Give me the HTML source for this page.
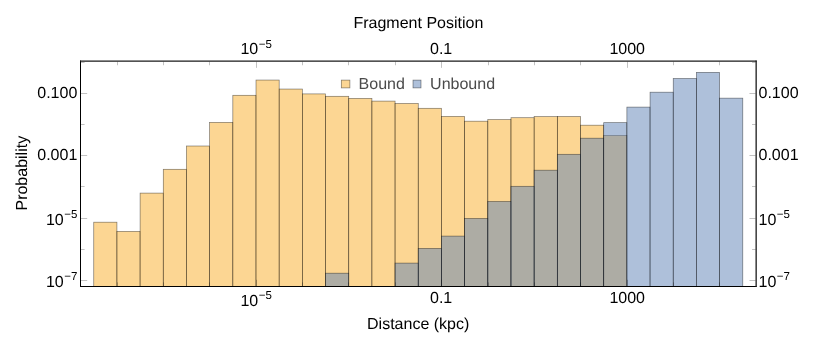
<!DOCTYPE html>
<html><head><meta charset="utf-8"><title>Histogram</title>
<style>
html,body{margin:0;padding:0;background:#fff;}
body{width:830px;height:348px;overflow:hidden;}
svg{display:block;position:absolute;left:0;top:0;will-change:transform;}
text{font-family:"Liberation Sans",sans-serif;font-size:16px;fill:#000;}
.lg text{fill:#4a4a4a;}
</style></head>
<body>
<svg width="830" height="348" viewBox="0 0 830 348">
<rect width="830" height="348" fill="#fff"/>
<g fill="#faad28" fill-opacity="0.5" stroke="#000" stroke-opacity="0.5" stroke-width="0.7"><rect x="93.74" y="222.20" width="23.18" height="64.30"/><rect x="116.92" y="231.40" width="23.18" height="55.10"/><rect x="140.10" y="193.10" width="23.18" height="93.40"/><rect x="163.28" y="169.30" width="23.18" height="117.20"/><rect x="186.46" y="146.00" width="23.18" height="140.50"/><rect x="209.64" y="122.40" width="23.18" height="164.10"/><rect x="232.82" y="95.30" width="23.18" height="191.20"/><rect x="256.00" y="80.05" width="23.18" height="206.45"/><rect x="279.18" y="89.05" width="23.18" height="197.45"/><rect x="302.36" y="93.90" width="23.18" height="192.60"/><rect x="325.54" y="96.30" width="23.18" height="190.20"/><rect x="348.72" y="98.40" width="23.18" height="188.10"/><rect x="371.90" y="101.10" width="23.18" height="185.40"/><rect x="395.08" y="103.50" width="23.18" height="183.00"/><rect x="418.26" y="108.30" width="23.18" height="178.20"/><rect x="441.44" y="116.40" width="23.18" height="170.10"/><rect x="464.62" y="121.20" width="23.18" height="165.30"/><rect x="487.80" y="119.60" width="23.18" height="166.90"/><rect x="510.98" y="117.70" width="23.18" height="168.80"/><rect x="534.16" y="116.60" width="23.18" height="169.90"/><rect x="557.34" y="116.50" width="23.18" height="170.00"/><rect x="580.52" y="125.20" width="23.18" height="161.30"/><rect x="603.70" y="135.40" width="23.18" height="151.10"/></g>
<g fill="#5e81b5" fill-opacity="0.5" stroke="#000" stroke-opacity="0.5" stroke-width="0.7"><rect x="325.54" y="273.20" width="23.18" height="13.30"/><rect x="395.08" y="263.10" width="23.18" height="23.40"/><rect x="418.26" y="248.40" width="23.18" height="38.10"/><rect x="441.44" y="236.10" width="23.18" height="50.40"/><rect x="464.62" y="218.50" width="23.18" height="68.00"/><rect x="487.80" y="201.50" width="23.18" height="85.00"/><rect x="510.98" y="186.30" width="23.18" height="100.20"/><rect x="534.16" y="170.20" width="23.18" height="116.30"/><rect x="557.34" y="154.30" width="23.18" height="132.20"/><rect x="580.52" y="138.20" width="23.18" height="148.30"/><rect x="603.70" y="122.65" width="23.18" height="163.85"/><rect x="626.88" y="107.10" width="23.18" height="179.40"/><rect x="650.06" y="92.20" width="23.18" height="194.30"/><rect x="673.24" y="78.50" width="23.18" height="208.00"/><rect x="696.42" y="72.35" width="23.18" height="214.15"/><rect x="719.60" y="98.15" width="23.18" height="188.35"/></g>
<g stroke="#000" stroke-opacity="0.24" stroke-width="1"><line x1="117.5" y1="61.65" x2="117.5" y2="65.25"/><line x1="117.5" y1="286.0" x2="117.5" y2="282.4"/><line x1="163.5" y1="61.65" x2="163.5" y2="65.25"/><line x1="163.5" y1="286.0" x2="163.5" y2="282.4"/><line x1="209.5" y1="61.65" x2="209.5" y2="65.25"/><line x1="209.5" y1="286.0" x2="209.5" y2="282.4"/><line x1="256.5" y1="61.65" x2="256.5" y2="67.85"/><line x1="256.5" y1="286.0" x2="256.5" y2="279.8"/><line x1="302.5" y1="61.65" x2="302.5" y2="65.25"/><line x1="302.5" y1="286.0" x2="302.5" y2="282.4"/><line x1="348.5" y1="61.65" x2="348.5" y2="65.25"/><line x1="348.5" y1="286.0" x2="348.5" y2="282.4"/><line x1="395.5" y1="61.65" x2="395.5" y2="65.25"/><line x1="395.5" y1="286.0" x2="395.5" y2="282.4"/><line x1="441.5" y1="61.65" x2="441.5" y2="67.85"/><line x1="441.5" y1="286.0" x2="441.5" y2="279.8"/><line x1="488.5" y1="61.65" x2="488.5" y2="65.25"/><line x1="488.5" y1="286.0" x2="488.5" y2="282.4"/><line x1="534.5" y1="61.65" x2="534.5" y2="65.25"/><line x1="534.5" y1="286.0" x2="534.5" y2="282.4"/><line x1="580.5" y1="61.65" x2="580.5" y2="65.25"/><line x1="580.5" y1="286.0" x2="580.5" y2="282.4"/><line x1="627.5" y1="61.65" x2="627.5" y2="67.85"/><line x1="627.5" y1="286.0" x2="627.5" y2="279.8"/><line x1="673.5" y1="61.65" x2="673.5" y2="65.25"/><line x1="673.5" y1="286.0" x2="673.5" y2="282.4"/><line x1="719.5" y1="61.65" x2="719.5" y2="65.25"/><line x1="719.5" y1="286.0" x2="719.5" y2="282.4"/><line x1="81.0" y1="280.5" x2="87.2" y2="280.5"/><line x1="755.65" y1="280.5" x2="749.4499999999999" y2="280.5"/><line x1="81.0" y1="249.5" x2="84.6" y2="249.5"/><line x1="755.65" y1="249.5" x2="752.05" y2="249.5"/><line x1="81.0" y1="218.5" x2="87.2" y2="218.5"/><line x1="755.65" y1="218.5" x2="749.4499999999999" y2="218.5"/><line x1="81.0" y1="186.5" x2="84.6" y2="186.5"/><line x1="755.65" y1="186.5" x2="752.05" y2="186.5"/><line x1="81.0" y1="155.5" x2="87.2" y2="155.5"/><line x1="755.65" y1="155.5" x2="749.4499999999999" y2="155.5"/><line x1="81.0" y1="124.5" x2="84.6" y2="124.5"/><line x1="755.65" y1="124.5" x2="752.05" y2="124.5"/><line x1="81.0" y1="93.5" x2="87.2" y2="93.5"/><line x1="755.65" y1="93.5" x2="749.4499999999999" y2="93.5"/><line x1="81.0" y1="62.5" x2="84.6" y2="62.5"/><line x1="755.65" y1="62.5" x2="752.05" y2="62.5"/></g>
<g stroke="#1a1a1a" fill="none">
<line x1="80.5" y1="60.6" x2="80.5" y2="287" stroke="#000" stroke-width="1"/>
<line x1="80" y1="286.5" x2="756.6" y2="286.5" stroke="#000" stroke-width="1"/>
<line x1="80" y1="61.15" x2="756.6" y2="61.15" stroke-width="1.3"/>
<line x1="756.15" y1="60.6" x2="756.15" y2="287" stroke-width="1.3"/>
</g>
<g opacity="0.999" text-rendering="geometricPrecision"><text x="256.10" y="54.4" text-anchor="middle">10<tspan font-size="11.5" dy="-6.8" dx="0.5">−5</tspan></text><text x="441.14" y="54.0" text-anchor="middle">0.1</text><text x="627.18" y="54.0" text-anchor="middle">1000</text><text x="256.10" y="306.2" text-anchor="middle">10<tspan font-size="11.5" dy="-6.8" dx="0.5">−5</tspan></text><text x="441.14" y="303.2" text-anchor="middle">0.1</text><text x="627.18" y="303.2" text-anchor="middle">1000</text><text x="77.3" y="98.0" text-anchor="end">0.100</text><text x="77.3" y="160.35" text-anchor="end">0.001</text><text x="77.3" y="224.6" text-anchor="end">10<tspan font-size="11.5" dy="-6.8" dx="0.5">−5</tspan></text><text x="77.3" y="286.7" text-anchor="end">10<tspan font-size="11.5" dy="-6.8" dx="0.5">−7</tspan></text><text x="758.5" y="98.0">0.100</text><text x="758.5" y="160.35">0.001</text><text x="758.5" y="224.6">10<tspan font-size="11.5" dy="-6.8" dx="0.5">−5</tspan></text><text x="758.5" y="286.7">10<tspan font-size="11.5" dy="-6.8" dx="0.5">−7</tspan></text><text x="418.4" y="27.75" text-anchor="middle">Fragment Position</text><text x="418.2" y="329.3" text-anchor="middle">Distance (kpc)</text><text transform="translate(27.1 173.2) rotate(-90)" text-anchor="middle">Probability</text></g>
<g stroke="#000" stroke-opacity="0.5" stroke-width="0.7" fill-opacity="0.5">
<rect x="341.3" y="80.1" width="8.6" height="7.8" fill="#faad28"/>
<rect x="413.0" y="80.1" width="8.0" height="7.8" fill="#5e81b5"/>
</g>
<g class="lg" opacity="0.999" text-rendering="geometricPrecision"><text x="358.6" y="89.2">Bound</text><text x="430.1" y="89.2">Unbound</text></g>
</svg>
</body></html>
